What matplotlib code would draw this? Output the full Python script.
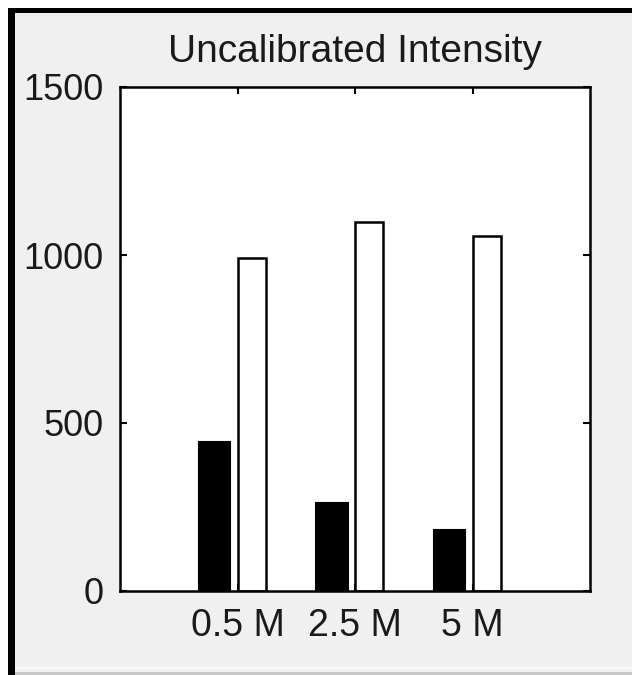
import matplotlib
matplotlib.use("Agg")
import matplotlib.pyplot as plt
from matplotlib.patches import Rectangle
import numpy as np

plt.rcParams['font.family'] = ['Liberation Sans', 'DejaVu Sans']

categories = ['0.5 M', '2.5 M', '5 M']
black_vals = [443, 261, 181]
white_vals = [992, 1099, 1056]

W, H = 632, 675
fig = plt.figure(figsize=(W / 100, H / 100), dpi=100, facecolor='#f0f0f0')


def px_rect(x0, y0, x1, y1, color):
    # rectangle in pixel coords measured from the top-left corner
    fig.patches.append(Rectangle(
        (x0 / W, 1 - y1 / H), (x1 - x0) / W, (y1 - y0) / H,
        transform=fig.transFigure, facecolor=color, edgecolor='none',
        zorder=-1))


# window frame
px_rect(0, 0, W, 8, 'white')
px_rect(0, 0, 8, H, 'white')
px_rect(8, 8, W, 13, 'black')
px_rect(8, 8, 15, H, 'black')
px_rect(15, 667, W, 669, '#fafafa')
px_rect(15, 672, W, H, '#c8c8c8')

ax = fig.add_axes([120 / W, 1 - 591 / H, 470 / W, 504 / H])
ax.set_facecolor('white')

x = np.arange(1, len(categories) + 1)
ax.bar(x - 0.195, black_vals, width=0.27, color='black', edgecolor='black',
       linewidth=1.5)
ax.bar(x + 0.12, white_vals, width=0.24, color='white', edgecolor='black',
       linewidth=1.8)

ax.set_xlim(0, 4)
ax.set_ylim(0, 1500)
ax.set_xticks(x)
ax.set_xticklabels(categories)
ax.set_yticks([0, 500, 1000, 1500])
ax.tick_params(axis='both', direction='in', length=5, width=1.5,
               top=True, right=True, colors='black')
ax.tick_params(axis='x', pad=12, labelsize=27, labelcolor='#1a1a1a')
ax.tick_params(axis='y', pad=12, labelsize=26, labelcolor='#1a1a1a')
for s in ax.spines.values():
    s.set_linewidth(1.8)
ax.set_title('Uncalibrated Intensity', fontsize=28, pad=18, color='#1a1a1a')

fig.savefig('out.png', dpi=100, facecolor=fig.get_facecolor())
